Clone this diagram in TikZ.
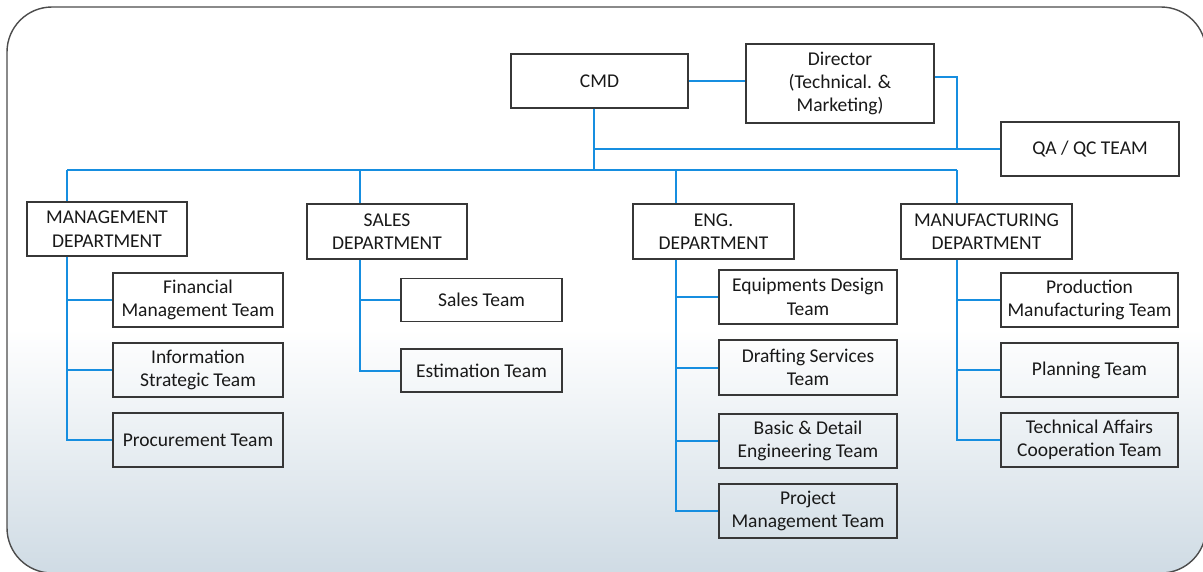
\documentclass[tikz,border=0pt]{standalone}
\usepackage{fontspec}
\setmainfont{Carlito}
\definecolor{linkblue}{RGB}{22,142,224}
\definecolor{boxgray}{RGB}{55,55,55}
\definecolor{textgray}{RGB}{25,25,25}
\definecolor{bgblue}{RGB}{207,219,228}
\begin{document}
\begin{tikzpicture}[x=1pt,y=-1pt,
  box/.style={draw=boxgray, line width=1.4pt, inner sep=0pt, align=center, text=textgray, font=\fontsize{19.5}{23.4}\selectfont},
  dept/.style={box, minimum height=55pt},
  team/.style={box, minimum height=54pt},
  link/.style={draw=linkblue, line width=2pt},
  frame/.style={draw=black!70, line width=1.4pt, rounded corners=45pt}]
  \useasboundingbox (0,0) rectangle (1203,571);
  % background panel
  \begin{scope}
    \clip[rounded corners=45pt] (7,7) rectangle (1206,573);
    \fill[white] (0,0) rectangle (1210,330);
    \shade[top color=white, bottom color=bgblue] (0,329) rectangle (1210,575);
  \end{scope}
  \draw[frame] (7,7) rectangle (1206,573);

  % top level
  \node[box, minimum width=177pt, minimum height=54pt] (CMD) at (599.5,81) {CMD};
  \node[box, minimum width=188pt, minimum height=79pt] (Dir) at (840,83.5) {Director\\(Technical. \&\\Marketing)};
  \node[box, minimum width=178pt, minimum height=54pt] (QA) at (1090,149) {QA / QC TEAM};

  % departments
  \node[dept, minimum width=160pt, minimum height=54pt] (Mgmt) at (107,229) {MANAGEMENT\\DEPARTMENT};
  \node[dept, minimum width=160pt] (Sales) at (387,231.5) {SALES\\DEPARTMENT};
  \node[dept, minimum width=161pt] (Eng) at (713.5,231.5) {ENG.\\DEPARTMENT};
  \node[dept, minimum width=171pt] (Manuf) at (986.5,231.5) {MANUFACTURING\\DEPARTMENT};

  % teams
  \node[team, minimum width=170pt] (Fin) at (198,300) {Financial\\Management Team};
  \node[team, minimum width=170pt] (Info) at (198,370) {Information\\Strategic Team};
  \node[team, minimum width=170pt] (Proc) at (198,440) {Procurement Team};

  \node[team, minimum width=161pt, minimum height=43pt] (SalesT) at (481.5,300) {Sales Team};
  \node[team, minimum width=161pt, minimum height=43pt] (Est) at (481.5,370.5) {Estimation Team};

  \node[team, minimum width=178pt] (Equip) at (808,297) {Equipments Design\\Team};
  \node[team, minimum width=178pt, minimum height=55pt] (Draft) at (808,367.5) {Drafting Services\\Team};
  \node[team, minimum width=178pt] (Basic) at (808,441) {Basic \& Detail\\Engineering Team};
  \node[team, minimum width=178pt] (Proj) at (808,511) {Project\\Management Team};

  \node[team, minimum width=177pt] (Prod) at (1089.5,300) {Production\\Manufacturing Team};
  \node[team, minimum width=177pt] (Plan) at (1089.5,370) {Planning Team};
  \node[team, minimum width=177pt] (Tech) at (1089.5,440) {Technical Affairs\\Cooperation Team};

  % bus and drop points
  \coordinate (hub) at (594,170);
  \coordinate (mgmtS) at (67,170);
  \coordinate (salesS) at (360,170);
  \coordinate (engS) at (676,170);
  \coordinate (manufS) at (957,170);

  \draw[link] (CMD.east) -- (CMD.east -| Dir.west);
  \draw[link] ([yshift=6.5pt]Dir.east) -| (manufS |- QA.west);
  \draw[link] (hub |- CMD.south) -- (hub);
  \draw[link] (hub |- QA.west) -- (QA.west);
  \draw[link] (mgmtS) -- (manufS);

  \draw[link] (mgmtS) -- (mgmtS |- Mgmt.north);
  \draw[link] (salesS) -- (salesS |- Sales.north);
  \draw[link] (engS) -- (engS |- Eng.north);
  \draw[link] (manufS) -- (manufS |- Manuf.north);

  % department spines
  \draw[link] (mgmtS |- Mgmt.south) |- (Proc.west);
  \foreach \t in {Fin,Info} \draw[link] (mgmtS |- \t.west) -- (\t.west);
  \draw[link] (salesS |- Sales.south) |- (Est.west);
  \draw[link] (salesS |- SalesT.west) -- (SalesT.west);
  \draw[link] (engS |- Eng.south) |- (Proj.west);
  \foreach \t in {Equip,Draft,Basic} \draw[link] (engS |- \t.west) -- (\t.west);
  \draw[link] (manufS |- Manuf.south) |- (Tech.west);
  \foreach \t in {Prod,Plan} \draw[link] (manufS |- \t.west) -- (\t.west);
\end{tikzpicture}
\end{document}
